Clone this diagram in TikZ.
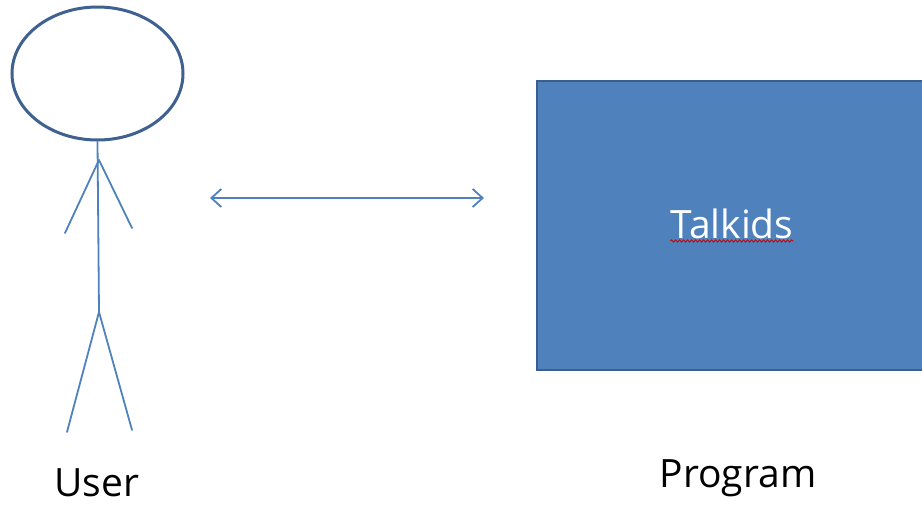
\documentclass[tikz,border=0pt]{standalone}
\usepackage{fontspec}
\setmainfont{Open Sans}
\usetikzlibrary{arrows.meta,shapes.geometric,decorations.pathmorphing}
\definecolor{lineblue}{HTML}{4F81BD}
\definecolor{darkblue}{HTML}{3F6190}
\definecolor{boxborder}{HTML}{3A5F8E}
\tikzset{
  stick/.style={draw=lineblue,line width=1.8pt,line cap=round},
  lbl/.style={font=\fontsize{39}{44}\selectfont,anchor=base,inner sep=0pt},
}
\begin{document}
\begin{tikzpicture}[x=1pt,y=-1pt]
\useasboundingbox (0,0) rectangle (922,504);
\clip (0,0) rectangle (922,504);
% head
\node[ellipse,draw=darkblue,line width=3pt,minimum width=171pt,minimum height=133pt,inner sep=0pt] (head) at (97.5,73.5) {};
% body
\coordinate (neck) at (99,160);
\coordinate (hip) at (99,312);
\coordinate (larm) at (65,233);
\coordinate (rarm) at (132,228);
\coordinate (lleg) at (67,432);
\coordinate (rleg) at (132,430);
\draw[stick] (head.south) -- (hip);
\draw[stick] (neck) -- (larm);
\draw[stick] (neck) -- (rarm);
\draw[stick] (hip) -- (lleg);
\draw[stick] (hip) -- (rleg);
\node[lbl] (user) at (97,496) {User};
% program box
\node[draw=boxborder,line width=1.5pt,fill=lineblue,rectangle,anchor=north west,minimum width=420pt,minimum height=289pt,inner sep=0pt] (prog) at (536,80) {};
\node[lbl,text=white] (talk) at (732,238) {Talkids};
\draw[red!80!black,line width=0.8pt,decorate,decoration={snake,amplitude=1.2pt,segment length=4pt}] ([yshift=-3pt]talk.base west) -- ([yshift=-3pt]talk.base east);
\node[lbl] (progl) at (738,487) {Program};
% arrow
\coordinate (a1) at (210,198);
\coordinate (a2) at (484,198);
\draw[draw=lineblue,line width=1.8pt,{Straight Barb[length=10pt,width=18pt]}-{Straight Barb[length=10pt,width=18pt]}] (a1) -- (a2);
\end{tikzpicture}
\end{document}
